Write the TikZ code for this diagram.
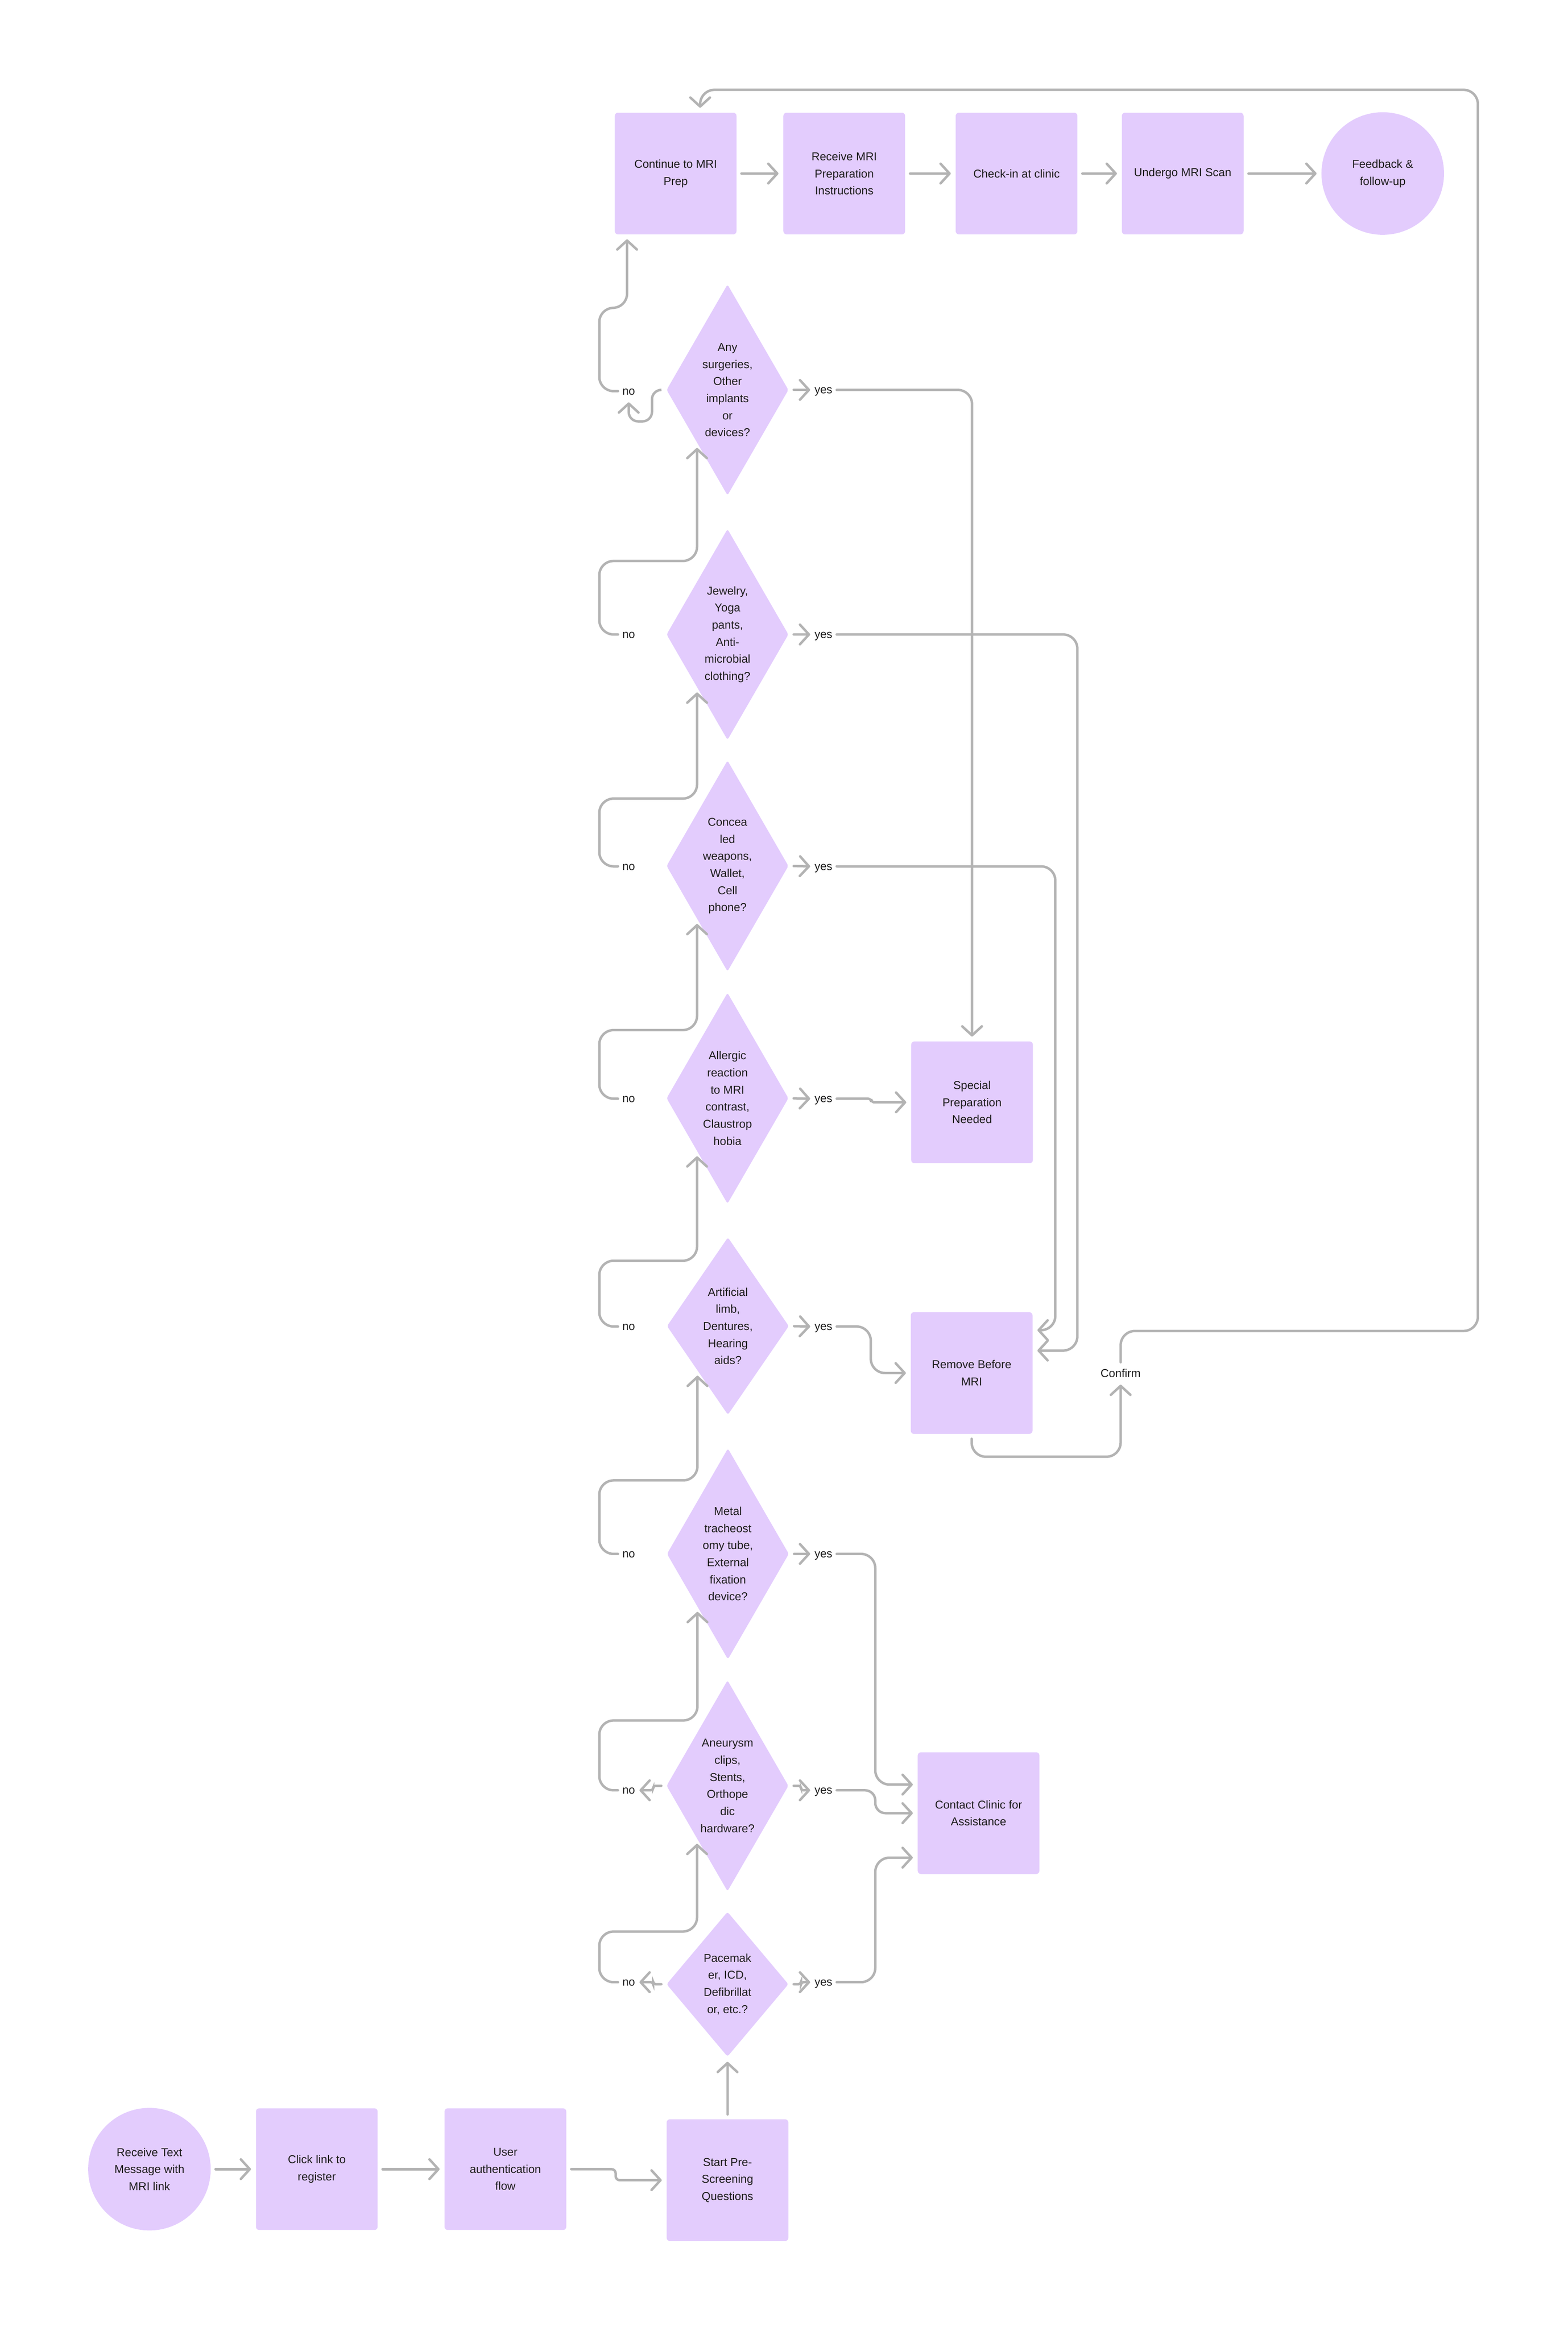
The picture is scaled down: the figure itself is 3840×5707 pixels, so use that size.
\documentclass[tikz,border=0pt]{standalone}
\usepackage{fontspec}
\setmainfont{Liberation Sans}
\usetikzlibrary{shapes.geometric,arrows.meta}
\definecolor{lilac}{HTML}{E3CCFD}
\definecolor{wire}{HTML}{B3B3B3}
\definecolor{ink}{HTML}{1E1E1E}

\begin{document}
\begin{tikzpicture}[x=0.01cm, y=-0.01cm, font=\fontsize{7.97pt}{11.9pt}\selectfont]
  \tikzstyle{box}=[rectangle, fill=lilac, rounded corners=0.08cm, minimum width=2.98cm, minimum height=2.98cm, inner sep=0pt, outer sep=0.12cm, align=center, text=ink]
  \tikzstyle{endpt}=[circle, fill=lilac, minimum size=3cm, inner sep=0pt, outer sep=0.12cm, align=center, text=ink]
  \tikzstyle{decision}=[diamond, fill=lilac, rounded corners=0.05cm, minimum width=2.98cm, minimum height=5.16cm, shape aspect=0.58, inner sep=0pt, outer sep=0pt, align=center, text=ink]
  \tikzstyle{lbl}=[inner sep=0.1cm, text height=1.4ex, text depth=0.4ex, text=ink]
  \tikzstyle{link}=[draw=wire, line width=0.06cm, line cap=round, rounded corners=0.35cm, -{Straight Barb[length=0.22cm, width=0.48cm, round]}]
  \tikzstyle{offd}=[shorten <=0.13cm]
  \tikzstyle{ontod}=[shorten >=0.13cm]
  \useasboundingbox (0,0) rectangle (3840,5707);

  \node[endpt] (recv) at (366,5313) {Receive Text\\Message with\\MRI link};
  \node[box] (click) at (776,5313) {Click link to\\register};
  \node[box] (auth) at (1238,5313) {User\\authentication\\flow};
  \node[box] (start) at (1782,5340) {Start Pre-\\Screening\\Questions};

  \node[decision, minimum height=3.54cm, shape aspect=0.84] (pace) at (1782,4860) {Pacemak\\er, ICD,\\Defibrillat\\or, etc.?};
  \node[decision] (aneur) at (1782,4374) {Aneurysm\\clips,\\Stents,\\Orthope\\dic\\hardware?};
  \node[decision] (metal) at (1783,3806) {Metal\\tracheost\\omy tube,\\External\\fixation\\device?};
  \node[decision, minimum height=4.34cm, shape aspect=0.69] (limb) at (1783,3248) {Artificial\\limb,\\Dentures,\\Hearing\\aids?};
  \node[decision] (allergy) at (1782,2690) {Allergic\\reaction\\to MRI\\contrast,\\Claustrop\\hobia};
  \node[decision] (conceal) at (1782,2121) {Concea\\led\\weapons,\\Wallet,\\Cell\\phone?};
  \node[decision] (jewel) at (1782,1554) {Jewelry,\\Yoga\\pants,\\Anti-\\microbial\\clothing?};
  \node[decision] (surg) at (1782,955) {Any\\surgeries,\\Other\\implants\\or\\devices?};

  \node[box] (special) at (2381,2700) {Special\\Preparation\\Needed};
  \node[box] (remove) at (2380,3363) {Remove Before\\MRI};
  \node[box] (contact) at (2397,4441) {Contact Clinic for\\Assistance};
  \node[lbl] (confirm) at (2745,3364) {Confirm};

  \node[box] (cont) at (1655,425) {Continue to MRI\\Prep};
  \node[box] (prep) at (2068,425) {Receive MRI\\Preparation\\Instructions};
  \node[box] (checkin) at (2490,425) {Check-in at clinic};
  \node[box] (scan) at (2897,425) {Undergo MRI Scan};
  \node[endpt] (feedback) at (3387,425) {Feedback \&\\follow-up};

  \node[lbl] (surgno) at (1540,958) {no};
  \node[lbl] (surgyes) at (2017,955) {yes};
  \node[lbl] (jewelno) at (1540,1554) {no};
  \node[lbl] (jewelyes) at (2017,1554) {yes};
  \node[lbl] (concealno) at (1540,2122) {no};
  \node[lbl] (concealyes) at (2017,2122) {yes};
  \node[lbl] (allergyno) at (1540,2691) {no};
  \node[lbl] (allergyyes) at (2017,2691) {yes};
  \node[lbl] (limbno) at (1540,3249) {no};
  \node[lbl] (limbyes) at (2017,3249) {yes};
  \node[lbl] (metalno) at (1540,3806) {no};
  \node[lbl] (metalyes) at (2017,3806) {yes};
  \node[lbl] (aneurno) at (1540,4385) {no};
  \node[lbl] (aneuryes) at (2017,4385) {yes};
  \node[lbl] (paceno) at (1540,4855) {no};
  \node[lbl] (paceyes) at (2017,4855) {yes};

  \draw[link] (recv) -- (click);
  \draw[link] (click) -- (auth);
  \draw[link, rounded corners=0.1cm] (auth.east) -- (1508,5313) |- (start.west);
  \draw[link, ontod] (start) -- (pace);

  \draw[link, offd, rounded corners=0.06cm] (pace.west) -- (1600,4860) |- (paceno.east);
  \draw[link, offd, rounded corners=0.06cm] (pace.east) -- (1962,4860) |- (paceyes.west);
  \draw[link, offd, rounded corners=0.06cm] (aneur.west) -- (1600,4374) |- (aneurno.east);
  \draw[link, offd, rounded corners=0.06cm] (aneur.east) -- (1962,4374) |- (aneuryes.west);
  \draw[link, offd] (metal.east) -- (metalyes.west);
  \draw[link, offd] (limb.east) -- (limbyes.west);
  \draw[link, offd] (allergy.east) -- (allergyyes.west);
  \draw[link, offd] (conceal.east) -- (concealyes.west);
  \draw[link, offd] (jewel.east) -- (jewelyes.west);
  \draw[link, offd] (surg.east) -- (surgyes.west);
  \draw[link, offd, rounded corners=0.23cm] (surg.west) -| (1597,1032) -| (surgno.south);

  \draw[link, ontod] (paceno.west) -| (1468,4731) -| (aneur.south west);
  \draw[link, ontod] (aneurno.west) -| (1468,4214) -| (metal.south west);
  \draw[link, ontod] (metalno.west) -| (1468,3626) -| (limb.south west);
  \draw[link, ontod] (limbno.west) -| (1468,3088) -| (allergy.south west);
  \draw[link, ontod] (allergyno.west) -| (1468,2523) -| (conceal.south west);
  \draw[link, ontod] (concealno.west) -| (1468,1956) -| (jewel.south west);
  \draw[link, ontod] (jewelno.west) -| (1468,1374) -| (surg.south west);
  \draw[link] (surgno.west) -| (1468,754) -| (1536,0 |- cont.south);

  \draw[link] (paceyes.east) -| (2144,4550) -- (contact.west |- 0,4550);
  \draw[link, rounded corners=0.25cm] (aneuryes.east) -| (2144,4441) -- (contact.west);
  \draw[link] (metalyes.east) -| (2144,4371) -- (contact.west |- 0,4371);
  \draw[link] (limbyes.east) -| (2133,3363) -- (remove.west);
  \draw[link, rounded corners=0.08cm] (allergyyes.east) -- (2134,2691) |- (special.west);
  \draw[link] (concealyes.east) -| (2585,3258) -- (remove.east |- 0,3258);
  \draw[link] (jewelyes.east) -| (2639,3308) -- (remove.east |- 0,3308);
  \draw[link] (surgyes.east) -| (special.north);

  \draw[link] (remove.south) -- ++(0,44) -| (confirm.south);
  \draw[link] (confirm.north) |- (3620,3260) |- (1715,220) -- (1715,0 |- cont.north);

  \draw[link] (cont) -- (prep);
  \draw[link] (prep) -- (checkin);
  \draw[link] (checkin) -- (scan);
  \draw[link] (scan) -- (feedback);
\end{tikzpicture}
\end{document}
